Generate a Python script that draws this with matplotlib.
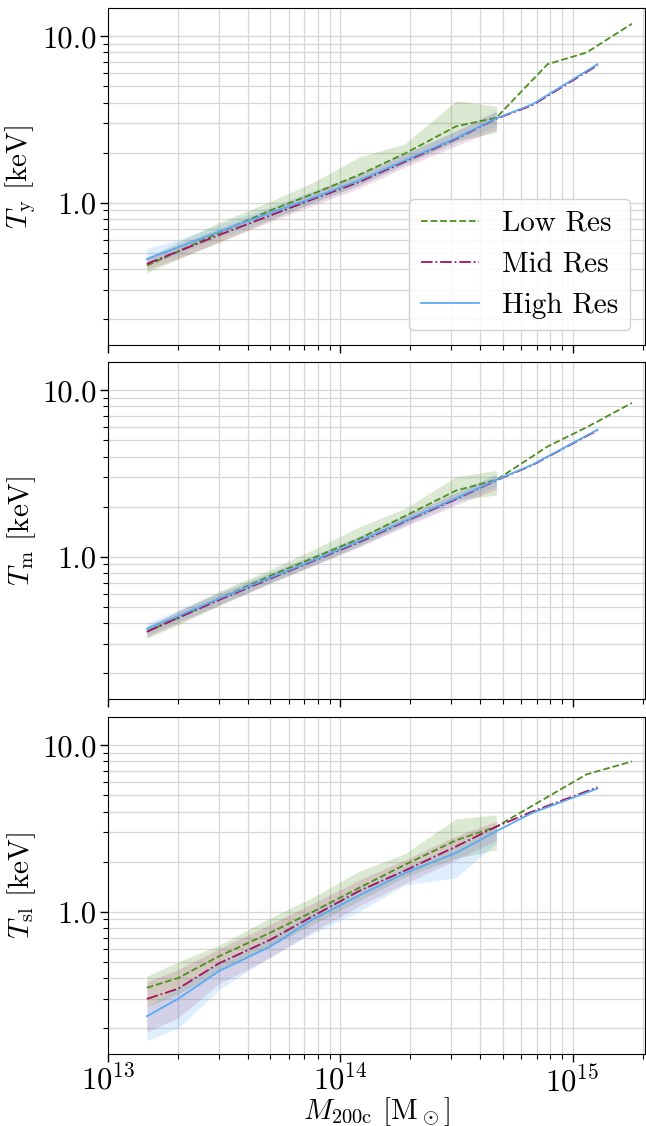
import matplotlib
matplotlib.use("Agg")
import matplotlib.pyplot as plt
from matplotlib.ticker import FixedLocator, FuncFormatter, NullFormatter, LogLocator

plt.rcParams['font.family'] = ['cmr10', 'DejaVu Serif']
plt.rcParams['mathtext.fontset'] = 'cm'
plt.rcParams['axes.formatter.use_mathtext'] = True
plt.rcParams['font.size'] = 21

# ---- data ----
x_band = [1.47e13, 2.0e13, 3.0e13, 5.0e13, 7.6e13, 1.2e14, 1.9e14, 3.15e14, 4.7e14]
x_low = x_band + [7.8e14, 1.15e15, 1.8e15]
x_mid = x_band + [6.7e14, 1.28e15]
x_high = x_band + [6.7e14, 1.28e15]

labels = ["Low Res", "Mid Res", "High Res"]
ylabels = [r"$T_{\rm y}$ [keV]", r"$T_{\rm m}$ [keV]", r"$T_{\rm sl}$ [keV]"]

# T_y
ty_low = [0.42, 0.51, 0.66, 0.90, 1.13, 1.47, 1.98, 2.88, 3.25, 6.8, 8.0, 11.9]
ty_mid = [0.43, 0.51, 0.64, 0.84, 1.05, 1.33, 1.77, 2.42, 3.20, 3.85, 6.7]
ty_high = [0.46, 0.54, 0.67, 0.87, 1.07, 1.36, 1.80, 2.45, 3.22, 3.90, 6.8]
ty_low_lo = [0.38, 0.46, 0.58, 0.79, 1.00, 1.28, 1.72, 2.35, 2.65]
ty_low_hi = [0.47, 0.58, 0.76, 1.02, 1.32, 1.88, 2.26, 4.10, 3.80]
ty_mid_lo = [0.40, 0.46, 0.58, 0.77, 0.96, 1.22, 1.64, 2.20, 2.75]
ty_mid_hi = [0.47, 0.56, 0.70, 0.92, 1.16, 1.47, 1.97, 2.70, 3.55]
ty_high_lo = [0.42, 0.49, 0.62, 0.80, 1.00, 1.27, 1.70, 2.30, 2.90]
ty_high_hi = [0.53, 0.60, 0.74, 0.95, 1.18, 1.48, 1.98, 2.70, 3.55]

# T_m
tm_low = [0.355, 0.43, 0.56, 0.77, 0.98, 1.28, 1.76, 2.50, 2.90, 4.6, 6.0, 8.4]
tm_mid = [0.355, 0.43, 0.55, 0.74, 0.94, 1.22, 1.63, 2.22, 2.88, 3.55, 5.75]
tm_high = [0.37, 0.44, 0.56, 0.75, 0.95, 1.24, 1.65, 2.25, 2.90, 3.57, 5.8]
tm_low_lo = [0.325, 0.39, 0.51, 0.70, 0.89, 1.16, 1.58, 2.20, 2.35]
tm_low_hi = [0.38, 0.47, 0.62, 0.84, 1.10, 1.51, 1.95, 3.03, 3.30]
tm_mid_lo = [0.33, 0.40, 0.51, 0.69, 0.88, 1.14, 1.52, 2.05, 2.55]
tm_mid_hi = [0.38, 0.47, 0.60, 0.80, 1.01, 1.31, 1.76, 2.42, 3.10]
tm_high_lo = [0.34, 0.41, 0.52, 0.70, 0.89, 1.16, 1.55, 2.10, 2.65]
tm_high_hi = [0.40, 0.48, 0.61, 0.81, 1.02, 1.33, 1.78, 2.45, 3.15]

# T_sl
tsl_low = [0.35, 0.40, 0.54, 0.75, 1.00, 1.39, 1.92, 2.69, 3.25, 4.9, 6.7, 8.0]
tsl_mid = [0.30, 0.345, 0.49, 0.68, 0.94, 1.33, 1.77, 2.47, 3.25, 4.0, 5.6]
tsl_high = [0.236, 0.30, 0.44, 0.62, 0.90, 1.25, 1.71, 2.26, 3.05, 3.93, 5.5]
tsl_low_lo = [0.27, 0.32, 0.44, 0.62, 0.84, 1.16, 1.62, 2.10, 2.36]
tsl_low_hi = [0.41, 0.50, 0.63, 0.92, 1.22, 1.75, 2.24, 3.62, 3.82]
tsl_mid_lo = [0.19, 0.23, 0.37, 0.53, 0.76, 1.08, 1.48, 2.05, 2.70]
tsl_mid_hi = [0.38, 0.45, 0.60, 0.84, 1.12, 1.55, 2.05, 2.85, 3.50]
tsl_high_lo = [0.168, 0.20, 0.34, 0.54, 0.74, 1.00, 1.45, 1.60, 2.60]
tsl_high_hi = [0.27, 0.35, 0.50, 0.70, 1.00, 1.38, 1.85, 2.50, 3.30]

panels = [
    (ty_low, ty_mid, ty_high, (ty_low_lo, ty_low_hi), (ty_mid_lo, ty_mid_hi), (ty_high_lo, ty_high_hi)),
    (tm_low, tm_mid, tm_high, (tm_low_lo, tm_low_hi), (tm_mid_lo, tm_mid_hi), (tm_high_lo, tm_high_hi)),
    (tsl_low, tsl_mid, tsl_high, (tsl_low_lo, tsl_low_hi), (tsl_mid_lo, tsl_mid_hi), (tsl_high_lo, tsl_high_hi)),
]

c_low = "#4e8f1e"
c_mid = "#a3125a"
c_high = "#5aaaf5"

W, H = 646, 1126
fig = plt.figure(figsize=(W / 100, H / 100), dpi=100)
left, right = 108 / W, 645 / W
tops = [8, 362, 717]
ph = 337

axes = []
for i, (yl, ym, yh, bl, bm, bh) in enumerate(panels):
    top = tops[i]
    ax = fig.add_axes([left, 1 - (top + ph) / H, right - left, ph / H])
    axes.append(ax)
    ax.fill_between(x_band, bl[0], bl[1], color=c_low, alpha=0.2, lw=0)
    ax.fill_between(x_band, bm[0], bm[1], color=c_mid, alpha=0.15, lw=0)
    ax.fill_between(x_band, bh[0], bh[1], color=c_high, alpha=0.2, lw=0)
    ax.plot(x_low, yl, ls="--", color=c_low, lw=1.3, label=labels[0], zorder=3)
    ax.plot(x_mid, ym, ls="-.", color=c_mid, lw=1.3, label=labels[1], zorder=3)
    ax.plot(x_high, yh, ls="-", color=c_high, lw=1.3, label=labels[2], zorder=3)
    ax.set_xscale("log")
    ax.set_yscale("log")
    ax.set_xlim(1e13, 2.05e15)
    ax.set_ylim(0.14, 14.8)
    ax.yaxis.set_major_locator(FixedLocator([1.0, 10.0]))
    ax.yaxis.set_major_formatter(FuncFormatter(lambda v, p: "%.1f" % v))
    ax.yaxis.set_minor_locator(LogLocator(base=10, subs=range(2, 10), numticks=20))
    ax.yaxis.set_minor_formatter(NullFormatter())
    ax.xaxis.set_minor_locator(LogLocator(base=10, subs=range(2, 10), numticks=20))
    ax.xaxis.set_minor_formatter(NullFormatter())
    ax.grid(True, which="major", color="#d6d6d6", lw=0.9)
    ax.grid(True, which="minor", color="#d6d6d6", lw=0.9)
    ax.set_axisbelow(True)
    ax.tick_params(which="major", length=6, width=1, direction="out", labelsize=22, pad=2)
    ax.tick_params(which="minor", length=3.5, width=0.8, direction="out")
    ax.set_ylabel(ylabels[i], labelpad=3, fontsize=21)
    if i < 2:
        ax.tick_params(axis="x", labelbottom=False)

axes[0].legend(loc="lower right", frameon=True, edgecolor="#cccccc", framealpha=0.85)
axes[2].set_xlabel(r"$M_{\rm 200c}$ [${\rm M}_\odot$]", labelpad=-2, fontsize=21)

fig.savefig("out.png", dpi=100)
